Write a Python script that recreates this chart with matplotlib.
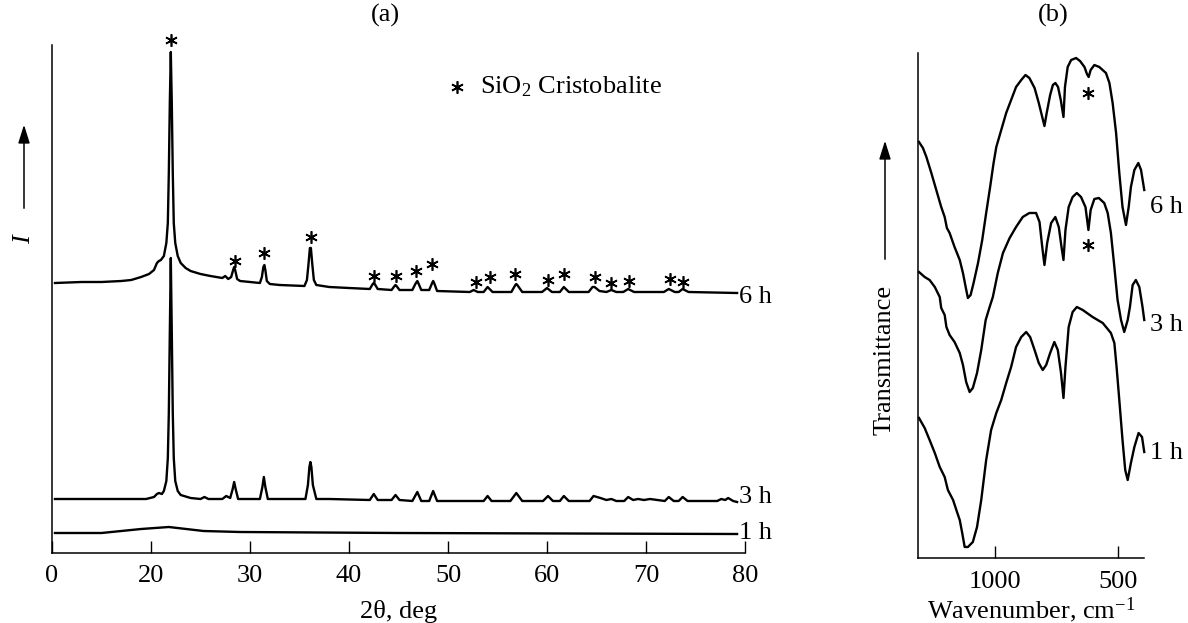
import matplotlib
matplotlib.use("Agg")
import matplotlib.pyplot as plt
from matplotlib.patches import FancyArrowPatch

plt.rcParams['font.family'] = ['Liberation Serif', 'DejaVu Serif']
plt.rcParams['mathtext.fontset'] = 'custom'
plt.rcParams['mathtext.rm'] = 'Liberation Serif'
plt.rcParams['mathtext.it'] = 'Liberation Serif:italic'

FS = 19

# ---- (a) XRD, 2theta in deg, intensity in arbitrary units ----
xrd_6h_x = [10.3, 13, 15, 17, 18, 19, 19.8, 20.3, 20.6, 20.8, 21.0, 21.3, 21.55, 21.7, 21.8, 21.9, 22.0,
            22.1, 22.2, 22.3, 22.45, 22.7, 23.0, 23.5, 24, 25, 26, 27.2, 27.5, 27.8, 28.1, 28.3, 28.4,
            28.5, 28.7, 29, 30, 31.0, 31.2, 31.35, 31.45, 31.55, 31.7, 32, 33, 35.5, 35.75, 35.9, 36.05,
            36.15, 36.3, 36.45, 36.7, 38, 40, 42.1, 42.4, 42.5, 42.6, 42.9, 44.3, 44.6, 44.7, 44.8, 45.1,
            46.4, 46.7, 46.9, 47.0, 47.3, 48.1, 48.4, 48.5, 48.6, 48.9, 52.2, 52.6, 53.0, 53.6, 54.0,
            54.5, 56.4, 56.8, 56.9, 57.0, 57.5, 59.5, 60.0, 60.5, 61.3, 61.7, 62.2, 64.2, 64.6, 64.8,
            65.3, 66.0, 66.5, 67.0, 67.7, 68.2, 68.8, 71.8, 72.3, 72.9, 73.3, 73.7, 74.3, 79.2]
xrd_6h_y = [270, 271, 271, 272, 273, 276, 279, 283, 290, 292, 293, 297, 310, 330, 380, 450, 501,
            450, 380, 330, 310, 297, 290, 285, 282, 279, 277, 275, 277, 274, 276, 283, 286,
            283, 274, 272, 271, 270, 276, 286, 288, 283, 272, 269, 268, 267, 273, 288, 305,
            305, 288, 273, 268, 266, 265, 264, 269, 270, 269, 264, 263, 267, 268, 267, 263,
            263, 269, 272, 270, 263, 263, 270, 272, 270, 262, 261, 263, 261, 261, 266,
            261, 261, 268, 269, 268, 261, 261, 265, 261, 261, 266, 261, 261, 266, 266,
            262, 261, 263, 261, 261, 264, 261, 261, 264, 261, 261, 264, 261, 260]

xrd_3h_x = [10.3, 15, 19.5, 20.3, 20.6, 20.8, 21.1, 21.3, 21.55, 21.7, 21.8, 21.9, 22.0, 22.1, 22.2,
            22.3, 22.45, 22.7, 23.0, 24, 25.0, 25.4, 25.8, 27.2, 27.6, 28.0, 28.25, 28.4, 28.55, 28.8,
            31.0, 31.25, 31.4, 31.55, 31.8, 35.6, 35.85, 36.0, 36.1, 36.2, 36.35, 36.7, 38,
            42.1, 42.5, 42.9, 44.3, 44.7, 45.1, 46.4, 46.9, 47.3, 48.1, 48.5, 48.9, 53.6, 54.0, 54.4,
            56.3, 56.9, 57.5, 59.6, 60.1, 60.6, 61.3, 61.7, 62.2, 64.3, 64.7, 65.4, 66.0, 66.5, 67.0,
            67.8, 68.2, 68.7, 69.2, 69.8, 70.4, 71.9, 72.3, 72.8, 73.3, 73.7, 74.2, 77.2, 77.6, 78.0,
            78.3, 78.8, 79.2]
xrd_3h_y = [54, 54, 54, 56, 59, 60, 59, 62, 72, 95, 140, 220, 295, 220, 140,
            95, 72, 62, 58, 55, 54, 56, 54, 54, 57, 55, 64, 71, 64, 54,
            54, 66, 76, 66, 54, 54, 68, 86, 91, 86, 68, 54, 54,
            53, 59, 53, 53, 58, 53, 52, 61, 52, 52, 62, 52, 52, 57, 52,
            52, 60, 52, 52, 57, 52, 52, 57, 52, 52, 57, 55, 53, 54, 52,
            52, 56, 53, 54, 53, 54, 52, 56, 52, 52, 56, 52, 52, 54, 53,
            55, 52, 51]

xrd_1h_x = [10.3, 15, 19, 21.8, 25.3, 29, 45, 79.2]
xrd_1h_y = [20, 20, 24, 26, 22, 21, 20, 19]

star_a_x = [22.0, 28.5, 31.4, 36.2, 42.5, 44.7, 46.8, 48.4, 52.8, 54.2, 56.8, 60.1, 61.7, 64.8,
            66.5, 68.3, 72.4, 73.7]
star_a_y = [513, 292, 300, 316, 277, 277, 282, 289, 271, 276, 279, 273, 279, 276,
            270, 272, 274, 271]

xrd_ticks = [10, 20, 30, 40, 50, 60, 70, 80]
xrd_ticklabels = ['0', '20', '30', '40', '50', '60', '70', '80']

# ---- (b) IR, wavenumber in cm-1, transmittance in arbitrary units ----
ir_6h_w = [1306, 1290, 1276, 1256, 1236, 1216, 1202, 1193, 1182, 1162, 1141, 1128, 1117, 1108, 1097,
           1085, 1067, 1050, 1034, 1018, 1004, 993, 973, 953, 933, 913, 892, 875, 859, 838, 821, 807,
           798, 789, 775, 764, 754, 743, 732, 721, 715, 704, 690, 670, 654, 636, 626, 619, 611, 596,
           576, 549, 535, 522, 508, 495, 482, 468, 457, 448, 434, 418, 407, 394]
ir_6h_t = [416, 410, 401, 385, 368, 351, 341, 330, 325, 311, 298, 285, 271, 260, 263,
           275, 295, 318, 345, 371, 395, 411, 428, 445, 458, 471, 478, 483, 480, 470, 455, 441,
           432, 445, 463, 473, 475, 471, 458, 441, 471, 491, 498, 500, 497, 491, 484, 481, 488, 493,
           491, 485, 475, 455, 425, 385, 351, 333, 351, 371, 388, 395, 388, 368]

ir_3h_w = [1306, 1283, 1263, 1242, 1222, 1216, 1202, 1195, 1182, 1162, 1141, 1128, 1115, 1101, 1088,
           1071, 1054, 1036, 1020, 1007, 987, 966, 939, 913, 886, 859, 832, 818, 807, 798, 787, 771,
           754, 740, 729, 721, 713, 700, 684, 667, 650, 632, 620, 611, 596, 578, 556, 542, 529, 515,
           502, 488, 475, 461, 452, 441, 428, 414, 401, 394]
ir_3h_t = [286, 281, 278, 271, 261, 250, 243, 231, 223, 216, 205, 193, 176, 166, 170,
           185, 208, 238, 251, 261, 285, 305, 320, 331, 341, 345, 345, 336, 311, 293, 315, 335,
           341, 331, 311, 298, 328, 351, 361, 365, 361, 351, 328, 348, 359, 360, 355, 345, 325, 291,
           258, 238, 226, 238, 251, 273, 278, 271, 251, 238]

ir_1h_w = [1306, 1283, 1263, 1242, 1222, 1202, 1189, 1168, 1152, 1141, 1131, 1121, 1108, 1088, 1071,
           1054, 1034, 1014, 993, 973, 953, 933, 913, 892, 872, 856, 838, 821, 805, 791, 775, 758,
           744, 731, 721, 713, 700, 684, 667, 643, 603, 562, 529, 515, 506, 495, 482, 471, 461, 448,
           434, 417, 403, 394]
ir_1h_t = [140, 130, 118, 105, 91, 81, 68, 58, 46, 38, 25, 11, 11, 16, 31,
           58, 98, 128, 145, 158, 175, 191, 211, 221, 226, 221, 208, 195, 188, 193, 205, 216,
           208, 185, 160, 191, 231, 246, 251, 248, 241, 235, 225, 215, 191, 158, 118, 88, 78, 95,
           111, 125, 121, 106]

star_b_w = [621, 621]
star_b_t = [465, 313]

ir_ticks = [1000, 500]

fig = plt.figure(figsize=(11.88, 6.23), dpi=100)
star = dict(ls='none', marker=(6, 2, 0), ms=9, mew=1.2, color='black', clip_on=False)

# panel (a)
ax1 = fig.add_axes([52 / 1188, 70 / 623, 693 / 1188, 508 / 623])
for xs, ys in [(xrd_6h_x, xrd_6h_y), (xrd_3h_x, xrd_3h_y), (xrd_1h_x, xrd_1h_y)]:
    ax1.plot(xs, ys, color='black', lw=1.7)
ax1.plot(star_a_x, star_a_y, **star)
ax1.set_xlim(10, 80)
ax1.set_ylim(0, 508)
ax1.set_xticks(xrd_ticks)
ax1.set_xticklabels(xrd_ticklabels)
ax1.set_yticks([])
ax1.spines['top'].set_visible(False)
ax1.spines['right'].set_visible(False)
ax1.tick_params(axis='x', direction='in', length=9, width=1, labelsize=FS, pad=9)
ax1.set_xlabel('2θ, deg', fontsize=FS, labelpad=9)
ax1.text(79.4, 256, '6 h', fontsize=FS, va='center', ha='left')
ax1.text(79.4, 56, '3 h', fontsize=FS, va='center', ha='left')
ax1.text(79.4, 20, '1 h', fontsize=FS, va='center', ha='left')
ax1.plot([0.584], [0.917], transform=ax1.transAxes, **star)
ax1.text(0.6176, 0.917, 'SiO$_2$ Cristobalite', transform=ax1.transAxes, fontsize=FS, va='center')

# panel (b)
ax2 = fig.add_axes([918 / 1188, 65 / 623, 226 / 1188, 505 / 623])
for ws, ts in [(ir_6h_w, ir_6h_t), (ir_3h_w, ir_3h_t), (ir_1h_w, ir_1h_t)]:
    ax2.plot(ws, ts, color='black', lw=1.7, clip_on=False)
ax2.plot(star_b_w, star_b_t, **star)
ax2.set_xlim(1310, 395)
ax2.set_ylim(0, 505)
ax2.set_xticks(ir_ticks)
ax2.set_yticks([])
ax2.spines['top'].set_visible(False)
ax2.spines['right'].set_visible(False)
ax2.tick_params(axis='x', direction='in', length=9, width=1, labelsize=FS, pad=9)
ax2.set_xlabel('Wavenumber, cm$^{-1}$', fontsize=FS, labelpad=2)
ax2.text(370, 351, '6 h', fontsize=FS, va='center', ha='left')
ax2.text(370, 233, '3 h', fontsize=FS, va='center', ha='left')
ax2.text(370, 105, '1 h', fontsize=FS, va='center', ha='left')

for a in (ax1, ax2):
    for s in ('left', 'bottom'):
        a.spines[s].set_linewidth(1.1)

# titles and y-axis arrows
fig.text(385 / 1188, 1 - 15 / 623, '(a)', fontsize=FS, ha='center', va='center')
fig.text(1053 / 1188, 1 - 15 / 623, '(b)', fontsize=FS, ha='center', va='center')

arrow = dict(transform=fig.transFigure, arrowstyle='-|>,head_length=0.7,head_width=0.22',
             mutation_scale=16, lw=1.1, color='black')
fig.text(24 / 1188, 1 - 240 / 623, 'I', fontsize=FS, style='italic', rotation=90,
         ha='center', va='center')
fig.add_artist(FancyArrowPatch((24 / 1188, 1 - 211 / 623), (24 / 1188, 1 - 122 / 623), **arrow))

fig.text(885 / 1188, 1 - 360 / 623, 'Transmittance', fontsize=FS, rotation=90,
         ha='center', va='center')
fig.add_artist(FancyArrowPatch((885 / 1188, 1 - 262 / 623), (885 / 1188, 1 - 138 / 623), **arrow))

fig.savefig('out.png', dpi=100)
